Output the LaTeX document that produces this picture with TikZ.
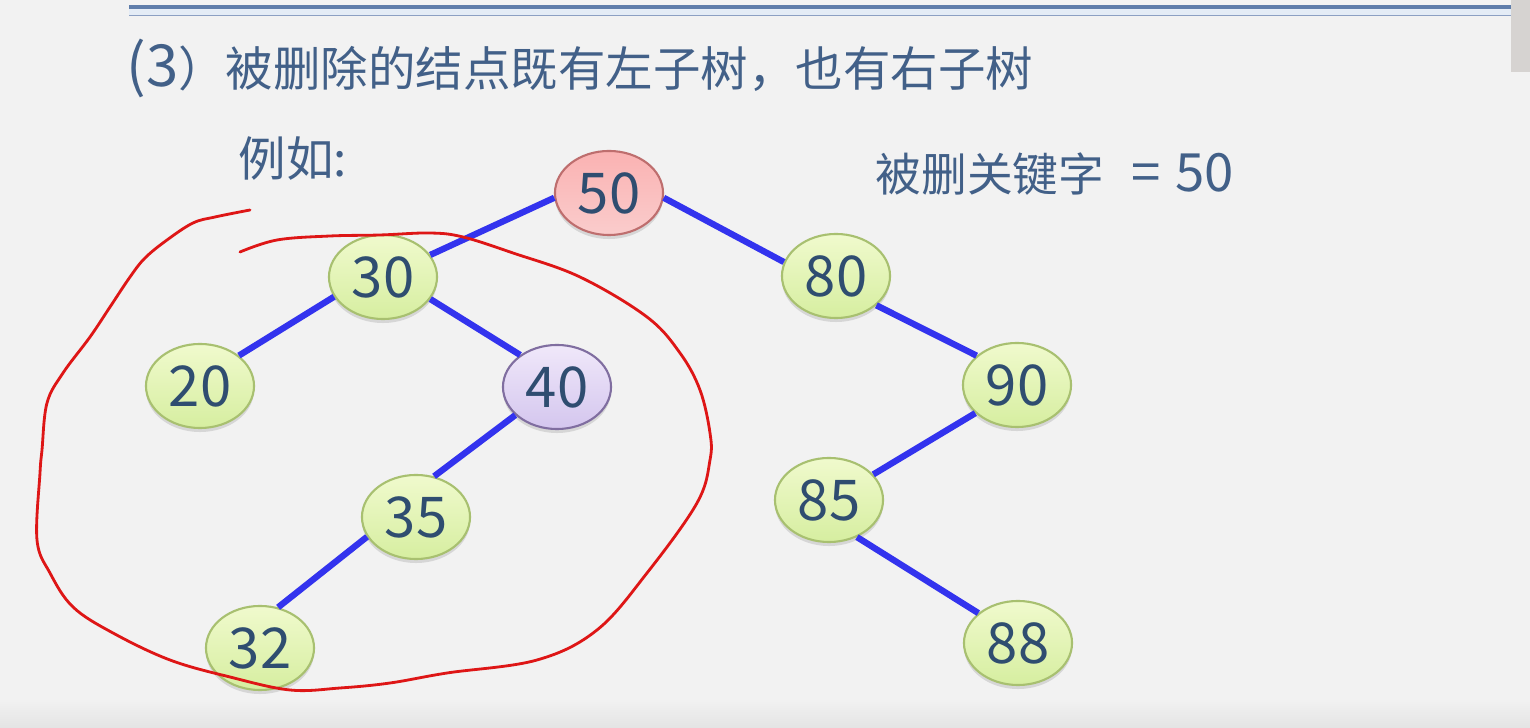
\documentclass[tikz,border=0pt]{standalone}
\usepackage{fontspec}
\setmainfont{Noto Sans CJK SC}
\usetikzlibrary{shapes.geometric,shadows}

\definecolor{bggrey}{RGB}{242,242,242}
\definecolor{bgdark}{RGB}{228,228,228}
\definecolor{barblue}{RGB}{95,125,170}
\definecolor{barthin}{RGB}{140,160,195}
\definecolor{barfill}{RGB}{228,236,246}
\definecolor{scrollgrey}{RGB}{214,211,209}
\definecolor{txtblue}{RGB}{66,96,136}
\definecolor{numblue}{RGB}{47,77,112}
\definecolor{edgeblue}{RGB}{51,51,238}
\definecolor{penred}{RGB}{222,22,22}
\definecolor{greentop}{RGB}{240,250,205}
\definecolor{greenbot}{RGB}{214,238,160}
\definecolor{greenline}{RGB}{168,192,112}
\definecolor{redtop}{RGB}{250,178,178}
\definecolor{redbot}{RGB}{250,204,204}
\definecolor{redline}{RGB}{190,110,110}
\definecolor{violettop}{RGB}{240,232,250}
\definecolor{violetbot}{RGB}{212,198,238}
\definecolor{violetline}{RGB}{128,110,160}

\tikzset{
  keynode/.style={ellipse, inner sep=0pt, minimum width=1.08cm, minimum height=0.84cm,
    line width=0.6pt, font=\fontsize{16}{16}\selectfont, text=numblue,
    drop shadow={shadow xshift=0pt, shadow yshift=-0.04cm, opacity=0.2, fill=black!60}},
  greenkey/.style={keynode, draw=greenline, top color=greentop, bottom color=greenbot},
  delkey/.style={keynode, draw=redline, top color=redtop, bottom color=redbot},
  succkey/.style={keynode, draw=violetline, top color=violettop, bottom color=violetbot},
  treeedge/.style={draw=edgeblue, line width=1.8pt},
  slidetext/.style={anchor=base west, inner sep=0pt, text=txtblue, font=\fontsize{13.5}{13.5}\selectfont},
}

\begin{document}
\begin{tikzpicture}[x=0.01cm, y=-0.01cm]
  \useasboundingbox (0,0) rectangle (1530,728);
  % slide background
  \fill[bggrey] (0,0) rectangle (1530,728);
  \shade[top color=bggrey, bottom color=bgdark] (0,698) rectangle (1530,728);
  \fill[barfill] (129,8) rectangle (1511,15);
  \draw[barblue, line width=0.9pt] (129,7) -- (1511,7);
  \draw[barthin, line width=0.5pt] (129,15.5) -- (1511,15.5);
  \fill[scrollgrey] (1511,0) rectangle (1530,72);

  % texts
  \node[slidetext] (title) at (126,87) {{\fontsize{16.5}{16}\selectfont(3}）被删除的结点既有左子树，也有右子树};
  \node[slidetext] (example) at (238,177) {例如:};
  \node[slidetext, font=\fontsize{13}{13}\selectfont] (delkeytext) at (875,192)
    {被删关键字\hspace{0.27cm}{\fontsize{15}{15}\selectfont=\hspace{0.15cm}50}};

  % the tree
  \node[delkey]   (k50) at (609,193) {50};
  \node[greenkey] (k30) at (383,277) {30};
  \node[greenkey] (k80) at (836,276) {80};
  \node[greenkey] (k20) at (200,386) {20};
  \node[succkey]  (k40) at (557,387) {40};
  \node[greenkey] (k35) at (416,517) {35};
  \node[greenkey] (k32) at (260,648) {32};
  \node[greenkey] (k90) at (1017,385) {90};
  \node[greenkey] (k85) at (829,500) {85};
  \node[greenkey] (k88) at (1018,643) {88};

  \foreach \a/\b in {k50.185/k30.25, k50.355/k80.165, k30.202/k20.38, k30.335/k40.139,
                     k40.214/k35.66, k35.202/k32.66, k80.324/k90.144, k90.214/k85.30, k85.307/k88.143}
    \draw[treeedge] (\a) -- (\b);

  % hand drawn mark round the left subtree
  \draw[penred, line width=0.8pt, line cap=round] plot[smooth, tension=0.6] coordinates {
    (250,210) (215,217) (193,223) (167,240) (145,258) (130,277) (110,307) (90,337)
    (63,373) (47,403) (42,450) (40,473) (37,540) (50,573) (73,607) (113,633)
    (170,660) (230,677) (290,690) (340,688) (390,683) (447,673) (537,660) (597,630)
    (647,573) (697,503) (710,460) (710,433) (700,390) (680,353) (647,317) (580,277)
    (513,253) (463,237) (430,233) (380,235) (330,236) (277,240) (240,252)};
\end{tikzpicture}
\end{document}
